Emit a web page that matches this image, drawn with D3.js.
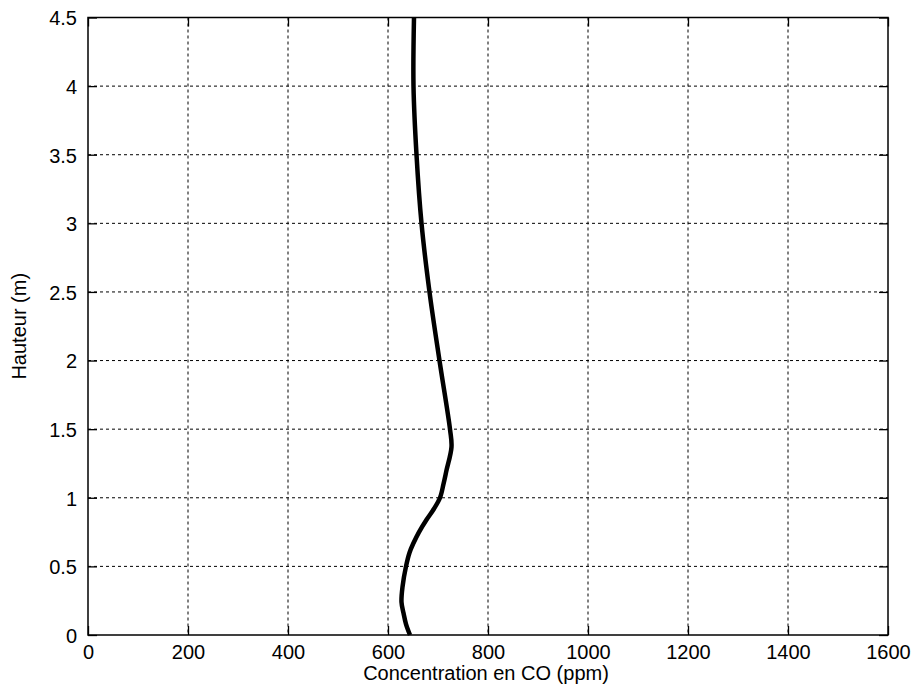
<!DOCTYPE html>
<html>
<head>
<meta charset="utf-8">
<script src="https://cdn.jsdelivr.net/npm/d3@7"></script>
<style>
  html, body { margin: 0; padding: 0; background: #fff; }
  svg { display: block; font-family: "Liberation Sans", Arial, Helvetica, sans-serif; }
</style>
</head>
<body>
<svg id="chart" width="916" height="688"></svg>
<script>
// Data
const heights = [0, 0.08, 0.16, 0.24, 0.35, 0.5, 0.6, 0.67, 0.75, 0.84, 0.92, 1.0, 1.1, 1.2, 1.37, 1.5, 2.0, 2.5, 3.0, 3.5, 4.0, 4.5];
const concentrations = [644, 636, 631, 627, 629, 636, 643, 651, 662, 677, 692, 704, 711, 717, 727, 724, 703, 683, 667, 657, 651, 652];
const xTicks = [0, 200, 400, 600, 800, 1000, 1200, 1400, 1600];
const yTicks = [0, 0.5, 1, 1.5, 2, 2.5, 3, 3.5, 4, 4.5];
const xLabel = "Concentration en CO (ppm)";
const yLabel = "Hauteur (m)";

(function () {
const svg = d3.select("#chart");
const pL = 88, pR = 888, pT = 17.5, pB = 635;

const x = d3.scaleLinear().domain([0, 1600]).range([pL, pR]);
const y = d3.scaleLinear().domain([0, 4.5]).range([pB, pT]);

const fs = 20;

// grid
const grid = svg.append("g").attr("stroke", "#000").attr("stroke-width", 1).attr("stroke-dasharray", "3,3");
grid.selectAll("line.vx").data(xTicks.slice(1, -1)).join("line")
  .attr("x1", d => x(d)).attr("x2", d => x(d)).attr("y1", pT).attr("y2", pB);
grid.selectAll("line.hy").data(yTicks.slice(1, -1)).join("line")
  .attr("y1", d => y(d)).attr("y2", d => y(d)).attr("x1", pL).attr("x2", pR);

// axes (ticks inward, all four sides)
const tl = 9;
const axB = svg.append("g").attr("transform", `translate(0,${pB})`)
  .call(d3.axisBottom(x).tickValues(xTicks).tickSizeInner(-tl).tickSizeOuter(0).tickPadding(10).tickFormat(d3.format("d")));
const axT = svg.append("g").attr("transform", `translate(0,${pT})`)
  .call(d3.axisTop(x).tickValues(xTicks).tickSizeInner(-tl).tickSizeOuter(0).tickFormat(""));
const axL = svg.append("g").attr("transform", `translate(${pL},0)`)
  .call(d3.axisLeft(y).tickValues(yTicks).tickSizeInner(-tl).tickSizeOuter(0).tickPadding(11).tickFormat(d => String(d)));
const axR = svg.append("g").attr("transform", `translate(${pR},0)`)
  .call(d3.axisRight(y).tickValues(yTicks).tickSizeInner(-tl).tickSizeOuter(0).tickFormat(""));

[axB, axT, axL, axR].forEach(a => {
  a.select(".domain").remove();
  a.selectAll(".tick line").attr("stroke", "#000").attr("stroke-width", 1.3);
  a.selectAll("text").attr("fill", "#000").attr("font-size", fs).attr("font-family", '"Liberation Sans", Arial, sans-serif');
});
axL.selectAll("text").attr("dy", "0.62em").attr("transform", "translate(0,-5)");

// box
svg.append("rect").attr("x", pL).attr("y", pT).attr("width", pR - pL).attr("height", pB - pT)
  .attr("fill", "none").attr("stroke", "#000").attr("stroke-width", 1.5);

// curve
const pts = heights.map((h, i) => [concentrations[i], h]);
svg.append("path").datum(pts)
  .attr("fill", "none").attr("stroke", "#000").attr("stroke-width", 4.5)
  .attr("stroke-linejoin", "round").attr("stroke-linecap", "butt")
  .attr("d", d3.line().x(d => x(d[0])).y(d => y(d[1])).curve(d3.curveCatmullRom.alpha(0.5)));

// labels
svg.append("text").attr("x", (pL + pR) / 2 - 2).attr("y", 680).attr("text-anchor", "middle")
  .attr("font-size", fs).attr("fill", "#000").text(xLabel);
svg.append("text").attr("transform", `translate(26,${(pT + pB) / 2}) rotate(-90)`).attr("text-anchor", "middle")
  .attr("font-size", fs).attr("fill", "#000").text(yLabel);
})();
</script>
</body>
</html>
